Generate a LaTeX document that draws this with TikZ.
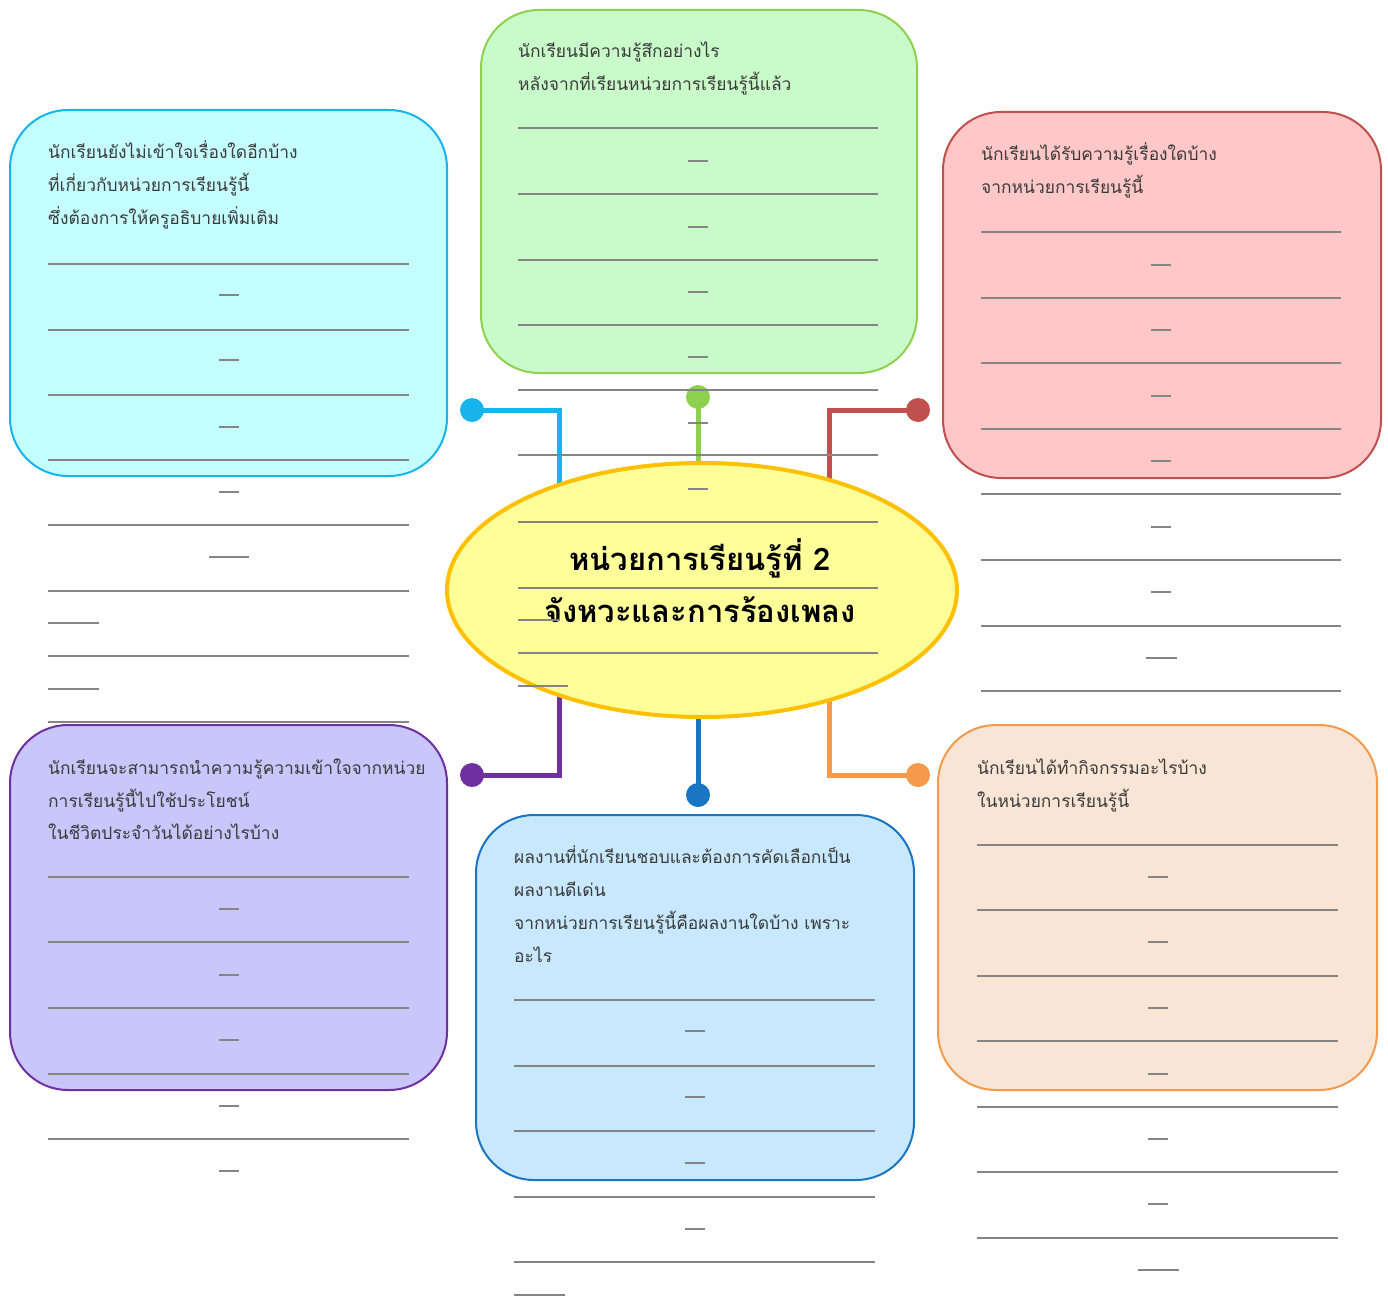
\documentclass[tikz,border=0pt]{standalone}
\usepackage{fontspec}
\newfontfamily\thai[Script=Thai]{Loma}
\usetikzlibrary{shapes.geometric}
\definecolor{cyanF}{HTML}{C4FEFF}
\definecolor{cyanS}{HTML}{17B4EE}
\definecolor{greenF}{HTML}{C9FAC9}
\definecolor{greenS}{HTML}{8FD14F}
\definecolor{redF}{HTML}{FFC7C7}
\definecolor{redS}{HTML}{C0504D}
\definecolor{purF}{HTML}{C8C6FB}
\definecolor{purS}{HTML}{7030A0}
\definecolor{bluF}{HTML}{C8E8FD}
\definecolor{bluS}{HTML}{1A75C4}
\definecolor{oraF}{HTML}{F9E5D6}
\definecolor{oraS}{HTML}{F59A4A}
\definecolor{ellF}{HTML}{FFFF99}
\definecolor{ellS}{HTML}{FFC000}
\definecolor{ruleC}{HTML}{858585}
\definecolor{txtC}{HTML}{3A3A3A}
\tikzset{
  qbox/.style={rectangle, rounded corners=58pt, line width=2pt, inner sep=0pt},
  qtext/.style={anchor=base west, inner sep=0pt, text=txtC, font=\thai\fontsize{17.4}{20}\selectfont},
  ruleline/.style={draw=ruleC, line width=1.6pt},
  dashline/.style={draw=ruleC, line width=1.6pt},
  conn/.style={line width=5pt},
  dot/.style={circle, minimum size=24pt, inner sep=0pt},
  title/.style={inner sep=0pt, font=\thai\bfseries\fontsize{31}{35}\selectfont, text=black}
}
\begin{document}
\begin{tikzpicture}[x=1pt,y=-1pt]
\useasboundingbox[fill=white] (0,0) rectangle (1388,1297);

% ---------- boxes ----------
\node[qbox, draw=cyanS, fill=cyanF, minimum width=437pt, minimum height=366pt] (bL) at (228.5,293) {};
\node[qbox, draw=greenS, fill=greenF, minimum width=436pt, minimum height=363pt] (bT) at (699,191.5) {};
\node[qbox, draw=redS, fill=redF, minimum width=438pt, minimum height=366pt] (bR) at (1162,295) {};
\node[qbox, draw=purS, fill=purF, minimum width=437pt, minimum height=365pt] (bBL) at (228.5,907.5) {};
\node[qbox, draw=bluS, fill=bluF, minimum width=438pt, minimum height=365pt] (bB) at (695,997.5) {};
\node[qbox, draw=oraS, fill=oraF, minimum width=439pt, minimum height=365pt] (bBR) at (1157.5,907.5) {};

% ---------- connectors ----------
\node[dot, fill=cyanS] (dL) at (472,410) {};
\node[dot, fill=greenS] (dT) at (698,397) {};
\node[dot, fill=redS] (dR) at (918,410) {};
\node[dot, fill=purS] (dBL) at (472,775) {};
\node[dot, fill=bluS] (dB) at (698,795) {};
\node[dot, fill=oraS] (dBR) at (918,775) {};
\coordinate (eL) at (559,520);
\coordinate (eT) at (698,520);
\coordinate (eR) at (829,520);
\coordinate (eBL) at (559,660);
\coordinate (eB) at (698,660);
\coordinate (eBR) at (829,660);
\draw[conn, draw=cyanS] (dL.center) -| (eL);
\draw[conn, draw=greenS] (dT.center) -- (eT);
\draw[conn, draw=redS] (dR.center) -| (eR);
\draw[conn, draw=purS] (dBL.center) -| (eBL);
\draw[conn, draw=bluS] (dB.center) -- (eB);
\draw[conn, draw=oraS] (dBR.center) -| (eBR);

% ---------- centre ----------
\node[ellipse, draw=ellS, fill=ellF, line width=4pt, minimum width=510pt, minimum height=254pt, inner sep=0pt] (ell) at (702,590) {};
\node[title] (ttl1) at (700,558) {หน่วยการเรียนรู้ที่ 2};
\node[title] (ttl2) at (700,610) {จังหวะและการร้องเพลง};

% ---------- question texts ----------
\node[qtext] (tL1) at (48,159) {นักเรียนยังไม่เข้าใจเรื่องใดอีกบ้าง};
\node[qtext] (tL2) at (48,192) {ที่เกี่ยวกับหน่วยการเรียนรู้นี้};
\node[qtext] (tL3) at (48,225) {ซึ่งต้องการให้ครูอธิบายเพิ่มเติม};

\node[qtext] (tT1) at (518,58) {นักเรียนมีความรู้สึกอย่างไร};
\node[qtext] (tT2) at (518,91) {หลังจากที่เรียนหน่วยการเรียนรู้นี้แล้ว};

\node[qtext] (tR1) at (981,161) {นักเรียนได้รับความรู้เรื่องใดบ้าง};
\node[qtext] (tR2) at (981,194) {จากหน่วยการเรียนรู้นี้};

\node[qtext] (tBL1) at (48,774) {นักเรียนจะสามารถนำความรู้ความเข้าใจจากหน่วย};
\node[qtext] (tBL2) at (48,807) {การเรียนรู้นี้ไปใช้ประโยชน์};
\node[qtext] (tBL3) at (48,839) {ในชีวิตประจำวันได้อย่างไรบ้าง};

\node[qtext] (tB1) at (514,863) {ผลงานที่นักเรียนชอบและต้องการคัดเลือกเป็น};
\node[qtext] (tB2) at (514,896) {ผลงานดีเด่น};
\node[qtext] (tB3) at (514,929) {จากหน่วยการเรียนรู้นี้คือผลงานใดบ้าง เพราะ};
\node[qtext] (tB4) at (514,962) {อะไร};

\node[qtext] (tBR1) at (977,774) {นักเรียนได้ทำกิจกรรมอะไรบ้าง};
\node[qtext] (tBR2) at (977,807) {ในหน่วยการเรียนรู้นี้};

% ---------- ruled answer lines (drawn on top) ----------
% left
\foreach \y in {264,330,395,460,525,591,656,722} \draw[ruleline] (48,\y) -- (409,\y);
\foreach \y in {295,360,427,492} \draw[dashline] (219,\y) -- (239,\y);
\draw[dashline] (209,557) -- (249,557);
\foreach \y in {623,689} \draw[dashline] (48,\y) -- (99,\y);
% top
\foreach \y in {128,194,260,325,390,455,522,588,653} \draw[ruleline] (518,\y) -- (878,\y);
\foreach \y in {161,227,292,357,423,489} \draw[dashline] (688,\y) -- (708,\y);
\draw[dashline] (518,620) -- (560,620);
\draw[dashline] (518,686) -- (568,686);
% right
\foreach \y in {232,298,363,429,494,560,626,691} \draw[ruleline] (981,\y) -- (1341,\y);
\foreach \y in {265,330,396,461,527,592} \draw[dashline] (1151,\y) -- (1171,\y);
\draw[dashline] (1146,658) -- (1177,658);
% bottom-left
\foreach \y in {877,942,1008,1074,1139} \draw[ruleline] (48,\y) -- (409,\y);
\foreach \y in {909,975,1040,1106,1171} \draw[dashline] (219,\y) -- (239,\y);
% bottom
\foreach \y in {1000,1066,1131,1197,1262} \draw[ruleline] (514,\y) -- (875,\y);
\foreach \y in {1031,1097,1163,1229} \draw[dashline] (685,\y) -- (705,\y);
\draw[dashline] (514,1295) -- (565,1295);
% bottom-right
\foreach \y in {845,910,976,1041,1107,1172,1238} \draw[ruleline] (977,\y) -- (1338,\y);
\foreach \y in {877,942,1008,1074,1139,1204} \draw[dashline] (1148,\y) -- (1168,\y);
\draw[dashline] (1138,1270) -- (1179,1270);
\end{tikzpicture}
\end{document}
